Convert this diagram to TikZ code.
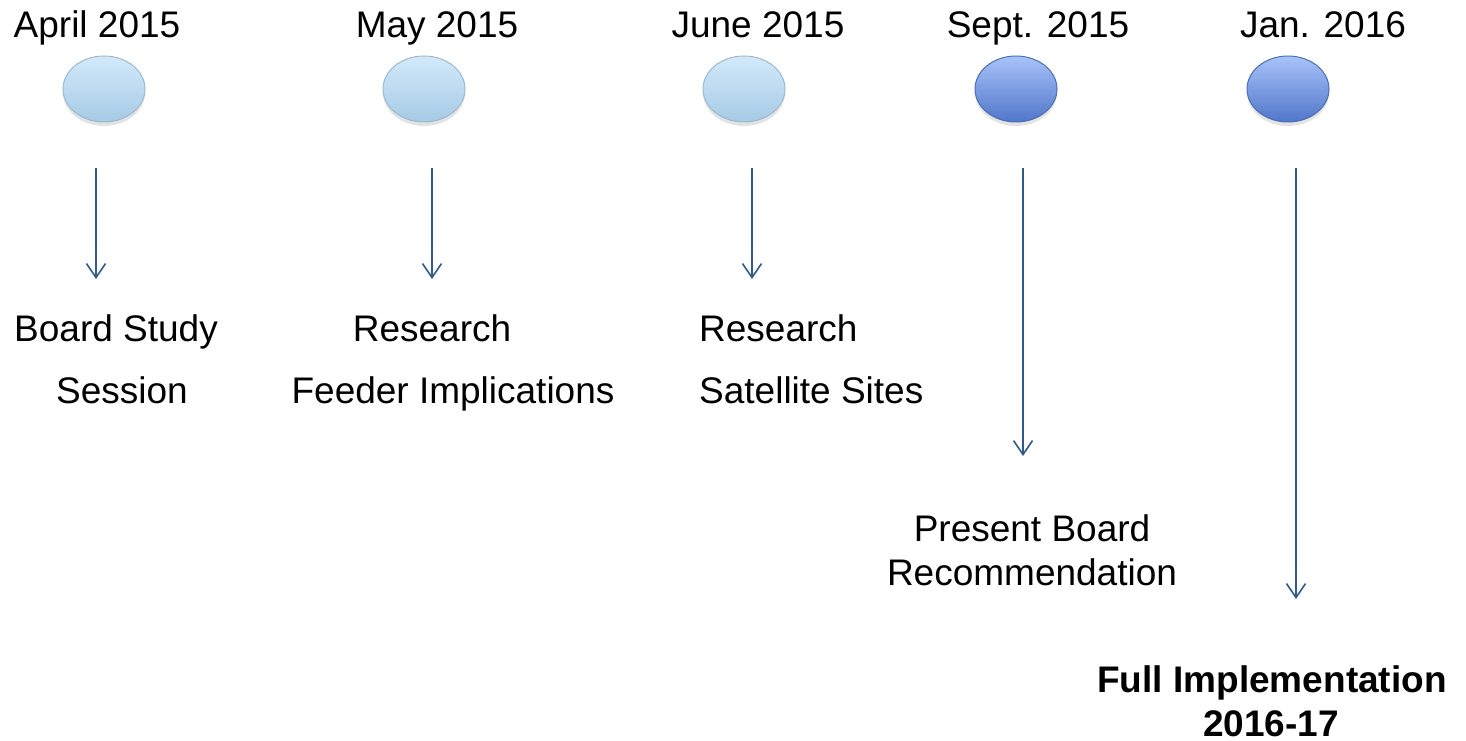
\documentclass[tikz,border=0pt]{standalone}
\usepackage{fontspec}
\setmainfont{Liberation Sans}
\usetikzlibrary{shapes.geometric,shadows,arrows.meta}
\definecolor{arrowblue}{HTML}{2F5A8C}
\definecolor{lighttop}{HTML}{D2E9FA}
\definecolor{lightbot}{HTML}{A6CBE6}
\definecolor{lightline}{HTML}{9DB9CF}
\definecolor{darktop}{HTML}{A9C2F8}
\definecolor{darkbot}{HTML}{5077CB}
\definecolor{darkline}{HTML}{4A6FB4}
\tikzset{
  x=1pt, y=1pt,
  blob/.style={ellipse, minimum width=82pt, minimum height=66pt, inner sep=0pt, line width=1pt,
    drop shadow={shadow xshift=0pt, shadow yshift=-4pt, opacity=0.18, fill=black!60}},
  lightblob/.style={blob, draw=lightline, top color=lighttop, bottom color=lightbot},
  darkblob/.style={blob, draw=darkline, top color=darktop, bottom color=darkbot},
  txt/.style={font=\fontsize{37}{44}\selectfont, inner sep=0pt, anchor=base},
  btxt/.style={txt, font=\fontsize{37}{44}\selectfont\bfseries},
  arr/.style={draw=arrowblue, line width=1.6pt, -{Straight Barb[length=14pt,width=19pt,line width=1.6pt]}},
}
\begin{document}
\begin{tikzpicture}
\useasboundingbox (0,0) rectangle (1466,-741);
% dates
\node[txt] (d1) at (97,-38) {April 2015};
\node[txt] (d2) at (437,-38) {May 2015};
\node[txt] (d3) at (758,-38) {June 2015};
\node[txt] (d4) at (1038,-38) {Sept. 2015};
\node[txt] (d5) at (1323,-38) {Jan. 2016};
% ellipses
\node[lightblob] (e1) at (104,-89) {};
\node[lightblob] (e2) at (424,-89) {};
\node[lightblob] (e3) at (744,-89) {};
\node[darkblob] (e4) at (1016,-89) {};
\node[darkblob] (e5) at (1288,-89) {};
% arrow coordinates
\coordinate (a1s) at (96,-168);   \coordinate (a1e) at (96,-279);
\coordinate (a2s) at (432,-168);  \coordinate (a2e) at (432,-279);
\coordinate (a3s) at (752,-168);  \coordinate (a3e) at (752,-279);
\coordinate (a4s) at (1023,-168); \coordinate (a4e) at (1023,-456);
\coordinate (a5s) at (1296,-168); \coordinate (a5e) at (1296,-599);
\draw[arr] (a1s) -- (a1e);
\draw[arr] (a2s) -- (a2e);
\draw[arr] (a3s) -- (a3e);
\draw[arr] (a4s) -- (a4e);
\draw[arr] (a5s) -- (a5e);
% labels
\node[txt, anchor=base west] (t1a) at (14,-341) {Board Study};
\node[txt] (t1b) at (122,-403) {Session};
\node[txt] (t2a) at (432,-341) {Research};
\node[txt] (t2b) at (453,-403) {Feeder Implications};
\node[txt, anchor=base west] (t3a) at (699,-341) {Research};
\node[txt, anchor=base west] (t3b) at (699,-403) {Satellite Sites};
\node[txt] (t4a) at (1032,-541) {Present Board};
\node[txt] (t4b) at (1032,-585) {Recommendation};
\node[btxt] (t5a) at (1272,-692) {Full Implementation};
\node[btxt] (t5b) at (1271,-736) {2016-17};
\end{tikzpicture}
\end{document}
